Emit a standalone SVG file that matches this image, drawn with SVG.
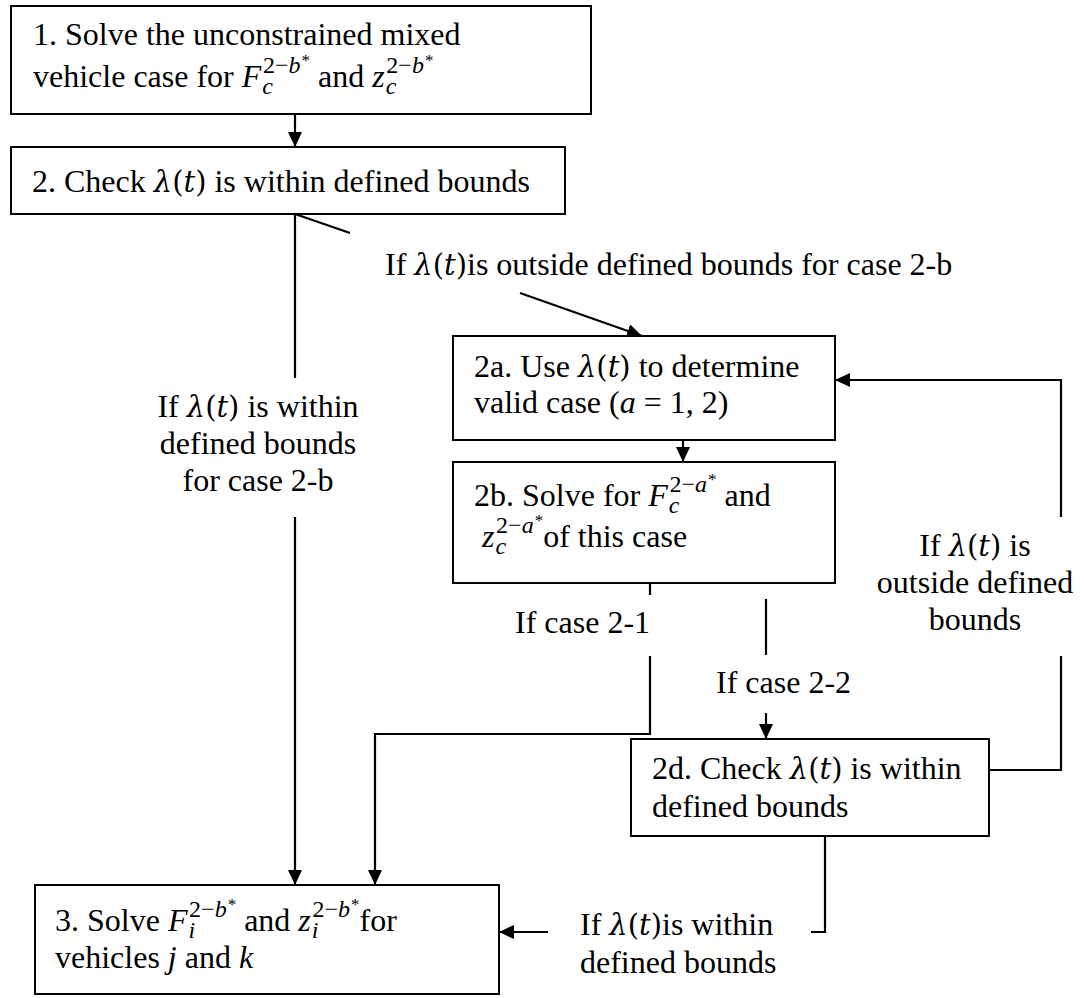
<svg xmlns="http://www.w3.org/2000/svg" width="1084" height="998" viewBox="0 0 1084 998">
<defs>
<style>
text { font-family: "Liberation Serif", "Times New Roman", serif; font-size: 32px; fill: #000; }
.i { font-style: italic; }
.m { font-family: "DejaVu Serif", "Liberation Serif", serif; font-size: 29px; }
.sc { font-size: 24px; }
.st { font-size: 17px; }
.box { fill: #fff; stroke: #000; stroke-width: 2; }
.c { fill: none; stroke: #000; stroke-width: 2.2; }
.mid { text-anchor: middle; }
</style>
<marker id="ah" viewBox="0 0 15 14" refX="15" refY="7" markerWidth="15" markerHeight="14" markerUnits="userSpaceOnUse" orient="auto">
<path d="M0,0 L15,7 L0,14 z" fill="#000"/>
</marker>
</defs>
<rect width="1084" height="998" fill="#fff"/>

<g id="connectors">
<line class="c" x1="295" y1="114" x2="295" y2="147" marker-end="url(#ah)"/>
<line class="c" x1="295" y1="214" x2="295" y2="378"/>
<line class="c" x1="295" y1="517" x2="295" y2="885" marker-end="url(#ah)"/>
<line class="c" x1="295" y1="214" x2="350" y2="233"/>
<line class="c" x1="520" y1="293" x2="642" y2="336" marker-end="url(#ah)"/>
<line class="c" x1="683" y1="440" x2="683" y2="462" marker-end="url(#ah)"/>
<line class="c" x1="650" y1="583" x2="650" y2="595"/>
<polyline class="c" points="650,656 650,734 375,734 375,885" marker-end="url(#ah)"/>
<line class="c" x1="766" y1="599" x2="766" y2="655"/>
<line class="c" x1="766" y1="713" x2="766" y2="739" marker-end="url(#ah)"/>
<polyline class="c" points="989,770 1061,770 1061,656"/>
<polyline class="c" points="1061,517 1061,380 835,380" marker-end="url(#ah)"/>
<polyline class="c" points="945,836 825,836 825,932 811,932"/>
<line class="c" x1="548" y1="932" x2="499" y2="932" marker-end="url(#ah)"/>
</g>

<g id="node1">
<rect class="box" x="11" y="6" width="580" height="108"/>
<text x="33" y="45">1. Solve the unconstrained mixed</text>
<text x="33" y="87">vehicle case for <tspan class="i">F</tspan><tspan class="sc i" dx="1" dy="7">c</tspan><tspan class="sc" dx="-10" dy="-21">2−</tspan><tspan class="sc i">b</tspan><tspan class="st" dx="1" dy="-7">*</tspan><tspan dy="21"> and </tspan><tspan class="i">z</tspan><tspan class="sc i" dx="1" dy="7">c</tspan><tspan class="sc" dx="-10" dy="-21">2−</tspan><tspan class="sc i">b</tspan><tspan class="st" dx="1" dy="-7">*</tspan></text>
</g>

<g id="node2">
<rect class="box" x="11" y="147" width="554" height="67"/>
<text x="32" y="192">2. Check <tspan class="m"><tspan class="i">λ</tspan>(<tspan class="i">t</tspan>)</tspan> is within defined bounds</text>
</g>

<g id="node2a">
<rect class="box" x="453" y="336" width="382" height="104"/>
<text x="474" y="377">2a. Use <tspan class="m"><tspan class="i">λ</tspan>(<tspan class="i">t</tspan>)</tspan> to determine</text>
<text x="474" y="413">valid case (<tspan class="i">a</tspan> = 1, 2)</text>
</g>

<g id="node2b">
<rect class="box" x="453" y="462" width="382" height="121"/>
<text x="474" y="506">2b. Solve for <tspan class="i">F</tspan><tspan class="sc i" dx="1" dy="7">c</tspan><tspan class="sc" dx="-10" dy="-21">2−</tspan><tspan class="sc i">a</tspan><tspan class="st" dx="1" dy="-7">*</tspan><tspan dy="21"> and</tspan></text>
<text x="482" y="547"><tspan class="i">z</tspan><tspan class="sc i" dx="1" dy="7">c</tspan><tspan class="sc" dx="-10" dy="-21">2−</tspan><tspan class="sc i">a</tspan><tspan class="st" dx="1" dy="-7">*</tspan><tspan dy="21">of this case</tspan></text>
</g>

<g id="node2d">
<rect class="box" x="631" y="739" width="358" height="97"/>
<text x="652" y="779">2d. Check <tspan class="m"><tspan class="i">λ</tspan>(<tspan class="i">t</tspan>)</tspan> is within</text>
<text x="652" y="817">defined bounds</text>
</g>

<g id="node3">
<rect class="box" x="35" y="885" width="464" height="109"/>
<text x="55" y="931">3. Solve <tspan class="i">F</tspan><tspan class="sc i" dx="1" dy="7">i</tspan><tspan class="sc" dx="-6" dy="-21">2−</tspan><tspan class="sc i">b</tspan><tspan class="st" dx="1" dy="-7">*</tspan><tspan dy="21"> and </tspan><tspan class="i">z</tspan><tspan class="sc i" dx="1" dy="7">i</tspan><tspan class="sc" dx="-6" dy="-21">2−</tspan><tspan class="sc i">b</tspan><tspan class="st" dx="1" dy="-7">*</tspan><tspan dy="21">for</tspan></text>
<text x="55" y="968">vehicles <tspan class="i">j</tspan> and <tspan class="i">k</tspan></text>
</g>

<g id="labels">
<text x="385" y="275">If <tspan class="m"><tspan class="i">λ</tspan>(<tspan class="i">t</tspan>)</tspan>is outside defined bounds for case 2-b</text>
<text class="mid" x="258" y="417">If <tspan class="m"><tspan class="i">λ</tspan>(<tspan class="i">t</tspan>)</tspan> is within</text>
<text class="mid" x="258" y="454">defined bounds</text>
<text class="mid" x="258" y="491">for case 2-b</text>
<text class="mid" x="975" y="556">If <tspan class="m"><tspan class="i">λ</tspan>(<tspan class="i">t</tspan>)</tspan> is</text>
<text class="mid" x="975" y="593">outside defined</text>
<text class="mid" x="975" y="630">bounds</text>
<text x="515" y="633">If case 2-1</text>
<text x="716" y="693">If case 2-2</text>
<text x="580" y="935">If <tspan class="m"><tspan class="i">λ</tspan>(<tspan class="i">t</tspan>)</tspan>is within</text>
<text x="580" y="973">defined bounds</text>
</g>
</svg>
